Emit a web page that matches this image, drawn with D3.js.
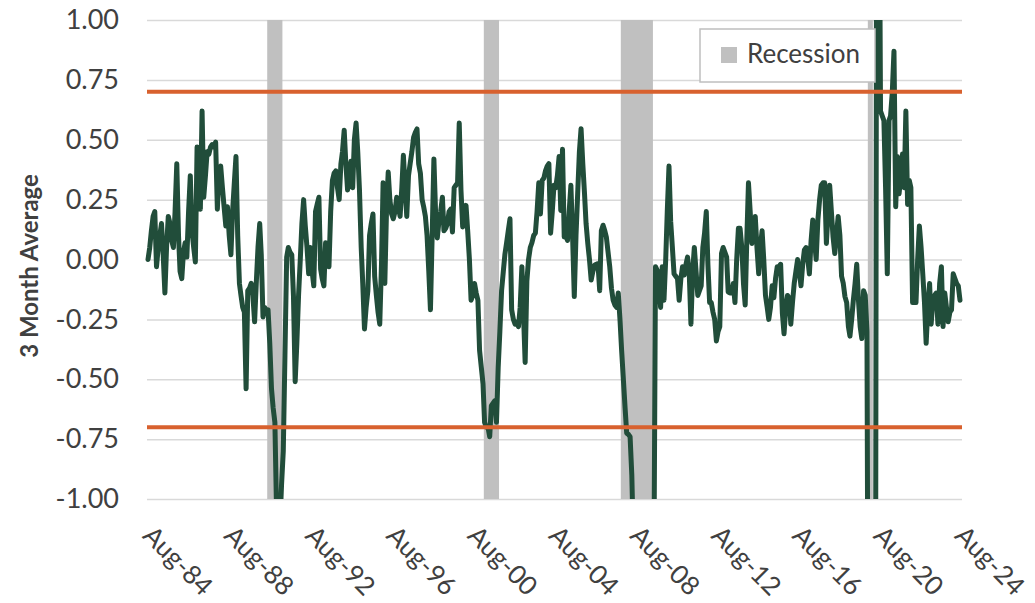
<!DOCTYPE html>
<html>
<head>
<meta charset="utf-8">
<script src="https://cdn.jsdelivr.net/npm/d3@7"></script>
<style>
  body { margin: 0; background: #fff; }
  svg text { font-family: Lato, "Open Sans", sans-serif; }
</style>
</head>
<body>
<svg id="chart" width="1035" height="603"></svg>
<script>
// ---------------- DATA ----------------
const firstMonth = "1984-08";   // first observation
// 3-month average, monthly, Aug-84 .. Aug-24 (values read from the reference)
const ma3_1984_1994 = [
  0.00, 0.05, 0.12, 0.18, 0.20, -0.03, 0.05, 0.10, 0.15, 0.02,
  -0.14, 0.05, 0.18, 0.15, 0.08, 0.05, 0.20, 0.40, 0.10, -0.05,
  -0.08, 0.03, 0.07, 0.01, 0.20, 0.35, 0.12, 0.05, -0.01, 0.47,
  0.30, 0.21, 0.62, 0.26, 0.35, 0.45, 0.44, 0.47, 0.48, 0.47,
  0.49, 0.21, 0.38, 0.39, 0.30, 0.22, 0.14, 0.22, 0.10, 0.02,
  0.20, 0.32, 0.43, 0.10, -0.10, -0.15, -0.20, -0.22, -0.54, -0.13,
  -0.12, -0.10, -0.15, -0.26, -0.10, 0.05, 0.15, 0.02, -0.24, -0.20,
  -0.22, -0.21, -0.35, -0.54, -0.62, -0.68, -1.05, -1.15, -1.10, -0.94,
  -0.80, -0.40, 0.01, 0.05, 0.03, 0.02, -0.15, -0.51, -0.35, -0.15,
  0.00, 0.15, 0.25, 0.14, 0.05, -0.06, 0.05, -0.05, -0.11, 0.20,
  0.23, 0.26, -0.04, -0.08, -0.11, 0.07, 0.02, -0.03, 0.20, 0.33,
  0.36, 0.37, 0.30, 0.25, 0.40, 0.45, 0.54, 0.40, 0.29, 0.35
];
const ma3_1994_2004 = [
  0.41, 0.30, 0.50, 0.57, 0.45, 0.29, 0.05, -0.10, -0.29, -0.20,
  -0.13, 0.10, 0.15, 0.19, -0.07, -0.15, -0.22, -0.27, -0.02, 0.32,
  -0.10, 0.20, 0.365, 0.25, 0.19, 0.17, 0.20, 0.26, 0.22, 0.18,
  0.30, 0.435, 0.30, 0.18, 0.35, 0.40, 0.45, 0.51, 0.53, 0.545,
  0.40, 0.36, 0.25, 0.22, 0.18, 0.10, -0.05, -0.21, 0.10, 0.42,
  0.20, 0.09, 0.16, 0.20, 0.26, 0.12, 0.13, 0.15, 0.20, 0.21,
  0.115, 0.30, 0.31, 0.32, 0.57, 0.29, 0.136, 0.15, 0.226, 0.12,
  0.00, -0.17, -0.15, -0.10, -0.14, -0.17, -0.38, -0.45, -0.52, -0.68,
  -0.70, -0.70, -0.74, -0.61, -0.60, -0.59, -0.68, -0.45, -0.30, -0.13,
  -0.05, 0.02, 0.07, 0.12, 0.17, -0.21, -0.25, -0.27, -0.26, -0.28,
  -0.20, -0.03, -0.24, -0.43, -0.09, 0.00, 0.05, 0.07, 0.10, 0.11,
  0.20, 0.32, 0.19, 0.33, 0.34, 0.37, 0.39, 0.40, 0.11, 0.20
];
const ma3_2004_2014 = [
  0.31, 0.30, 0.35, 0.43, 0.205, 0.46, 0.094, 0.10, 0.08, 0.20,
  0.31, 0.10, -0.155, 0.10, 0.275, 0.45, 0.546, 0.40, 0.275, 0.15,
  0.067, 0.00, -0.086, -0.05, -0.024, -0.02, -0.017, -0.13, 0.12, 0.143,
  0.12, 0.094, 0.03, -0.03, -0.12, -0.17, -0.19, -0.20, -0.14, -0.25,
  -0.38, -0.50, -0.62, -0.725, -0.73, -0.74, -0.90, -1.20, -1.60, -2.20,
  -2.80, -3.00, -2.80, -2.50, -2.00, -1.90, -1.70, -1.60, -1.50, -1.40,
  -0.03, -0.045, -0.10, -0.20, -0.03, -0.17, 0.00, 0.20, 0.39, 0.16,
  0.05, -0.06, -0.07, -0.08, -0.17, -0.08, -0.03, -0.065, -0.02, 0.01,
  -0.06, -0.27, -0.05, 0.05, -0.05, -0.15, -0.13, -0.11, 0.05, 0.11,
  0.20, -0.02, -0.18, -0.18, -0.22, -0.25, -0.34, -0.30, -0.28, 0.025,
  0.05, 0.03, 0.01, -0.135, -0.14, -0.14, -0.10, -0.18, 0.00, 0.13,
  0.13, 0.05, -0.10, -0.19, 0.10, 0.32, 0.20, 0.067, 0.10, 0.18
];
const ma3_2014_2024 = [
  0.05, -0.06, 0.05, 0.12, 0.00, -0.15, -0.20, -0.25, -0.20, -0.11,
  -0.16, -0.08, -0.03, -0.03, -0.02, -0.225, -0.31, -0.20, -0.15, -0.16,
  -0.27, -0.18, -0.10, -0.05, 0.00, -0.05, -0.11, -0.02, 0.04, 0.05,
  0.00, -0.06, 0.08, 0.165, 0.08, 0.00, 0.165, 0.25, 0.31, 0.32,
  0.32, 0.067, 0.20, 0.31, 0.20, 0.094, 0.025, 0.10, 0.18, 0.10,
  -0.07, -0.10, -0.155, -0.18, -0.28, -0.32, -0.25, -0.17, -0.10, -0.02,
  -0.17, -0.28, -0.33, -0.13, -0.15, -0.30, -2.50, -5.00, -5.00, -3.50,
  -2.00, 3.00, 2.00, 0.62, 0.60, 0.58, 0.30, -0.06, 0.58, 0.60,
  0.70, 0.87, 0.22, 0.43, 0.275, 0.35, 0.44, 0.30, 0.62, 0.23,
  0.33, 0.30, -0.18, -0.10, -0.18, 0.00, 0.14, 0.05, -0.06, -0.18,
  -0.35, -0.20, -0.10, -0.27, -0.17, -0.15, -0.14, -0.27, -0.10, -0.03,
  -0.28, -0.14, -0.20, -0.26, -0.22, -0.21, -0.06, -0.08, -0.10, -0.11,
  -0.17
];
const xTickLabels = ["Aug-84","Aug-88","Aug-92","Aug-96","Aug-00","Aug-04",
                     "Aug-08","Aug-12","Aug-16","Aug-20","Aug-24"];
const yTickValues = [-1.00, -0.75, -0.50, -0.25, 0.00, 0.25, 0.50, 0.75, 1.00];
const recessions = [["1990-07","1991-03"],["2001-03","2001-11"],
                    ["2007-12","2009-06"],["2020-02","2020-04"]];
const thresholds = [0.70, -0.70];
const yTitle = "3 Month Average";
const legendLabel = "Recession";

// ---------------- CHART ----------------
const parseMonth = d3.timeParse("%Y-%m");
const parseTick = d3.timeParse("%b-%y");
const values = [].concat(ma3_1984_1994, ma3_1994_2004, ma3_2004_2014, ma3_2014_2024);
const start = parseMonth(firstMonth);
const series = values.map((v, i) => ({ date: d3.timeMonth.offset(start, i), v }));

const svg = d3.select("#chart");
const plot = { left: 147, right: 962, top: 20, bottom: 499 };

const x = d3.scaleTime()
  .domain([start, d3.timeMonth.offset(start, 480)])
  .range([148, 960]);
const y = d3.scaleLinear().domain([-1, 1]).range([plot.bottom, plot.top]);

const txtColor = "#404040";

// gridlines + y labels
const yAxis = svg.append("g")
  .attr("transform", `translate(${plot.left},0)`)
  .call(d3.axisLeft(y).tickValues(yTickValues)
        .tickSize(-(plot.right - plot.left)).tickPadding(28)
        .tickFormat(d => d.toFixed(2)));
yAxis.select(".domain").remove();
yAxis.selectAll("line").attr("stroke", "#d9d9d9").attr("stroke-width", 1.5);
yAxis.selectAll("text").attr("fill", txtColor).style("font-size", "27px");

// recession bars
const halfMonth = d => {
  return [(x(d3.timeMonth.offset(d, -1)) + x(d)) / 2, (x(d) + x(d3.timeMonth.offset(d, 1))) / 2];
};
svg.append("g").selectAll("rect").data(recessions).join("rect")
  .attr("x", d => halfMonth(parseMonth(d[0]))[0])
  .attr("width", d => halfMonth(parseMonth(d[1]))[1] - halfMonth(parseMonth(d[0]))[0])
  .attr("y", plot.top)
  .attr("height", plot.bottom - plot.top)
  .attr("fill", "#c0c0c0");

// x axis labels
const xAxis = svg.append("g")
  .attr("transform", `translate(0,${plot.bottom})`)
  .call(d3.axisBottom(x).tickValues(xTickLabels.map(parseTick))
        .tickSize(0).tickFormat(d3.timeFormat("%b-%y")));
xAxis.select(".domain").remove();
xAxis.selectAll("text")
  .attr("x", 0).attr("y", 0).attr("dy", 0)
  .attr("text-anchor", "start")
  .attr("transform", "translate(-7,38) rotate(45)")
  .attr("fill", txtColor)
  .style("font-size", "26px");

// clip
svg.append("clipPath").attr("id", "plotclip")
  .append("rect").attr("x", 140).attr("y", plot.top)
  .attr("width", plot.right - 140 + 10).attr("height", plot.bottom - plot.top);

// line
const line = d3.line().x(d => x(d.date)).y(d => y(d.v));
svg.append("path")
  .datum(series)
  .attr("clip-path", "url(#plotclip)")
  .attr("d", line)
  .attr("fill", "none")
  .attr("stroke", "#214d3a")
  .attr("stroke-width", 5)
  .attr("stroke-linejoin", "round")
  .attr("stroke-linecap", "round");

// thresholds
svg.append("g").selectAll("line").data(thresholds).join("line")
  .attr("x1", plot.left).attr("x2", plot.right)
  .attr("y1", d => y(d)).attr("y2", d => y(d))
  .attr("stroke", "#d8612e").attr("stroke-width", 4);

// y title
svg.append("text")
  .attr("transform", `translate(38,266) rotate(-90)`)
  .attr("text-anchor", "middle")
  .attr("fill", txtColor)
  .style("font-size", "24px").style("font-weight", "bold")
  .text(yTitle);

// legend
const lg = svg.append("g");
lg.append("rect").attr("x", 700).attr("y", 29).attr("width", 175).attr("height", 53)
  .attr("fill", "#fff").attr("stroke", "#bfbfbf").attr("stroke-width", 1.5);
lg.append("rect").attr("x", 721).attr("y", 47).attr("width", 16).attr("height", 16)
  .attr("fill", "#c0c0c0");
lg.append("text").attr("x", 747).attr("y", 63).attr("fill", txtColor)
  .style("font-size", "26px").text(legendLabel);
</script>
</body>
</html>
